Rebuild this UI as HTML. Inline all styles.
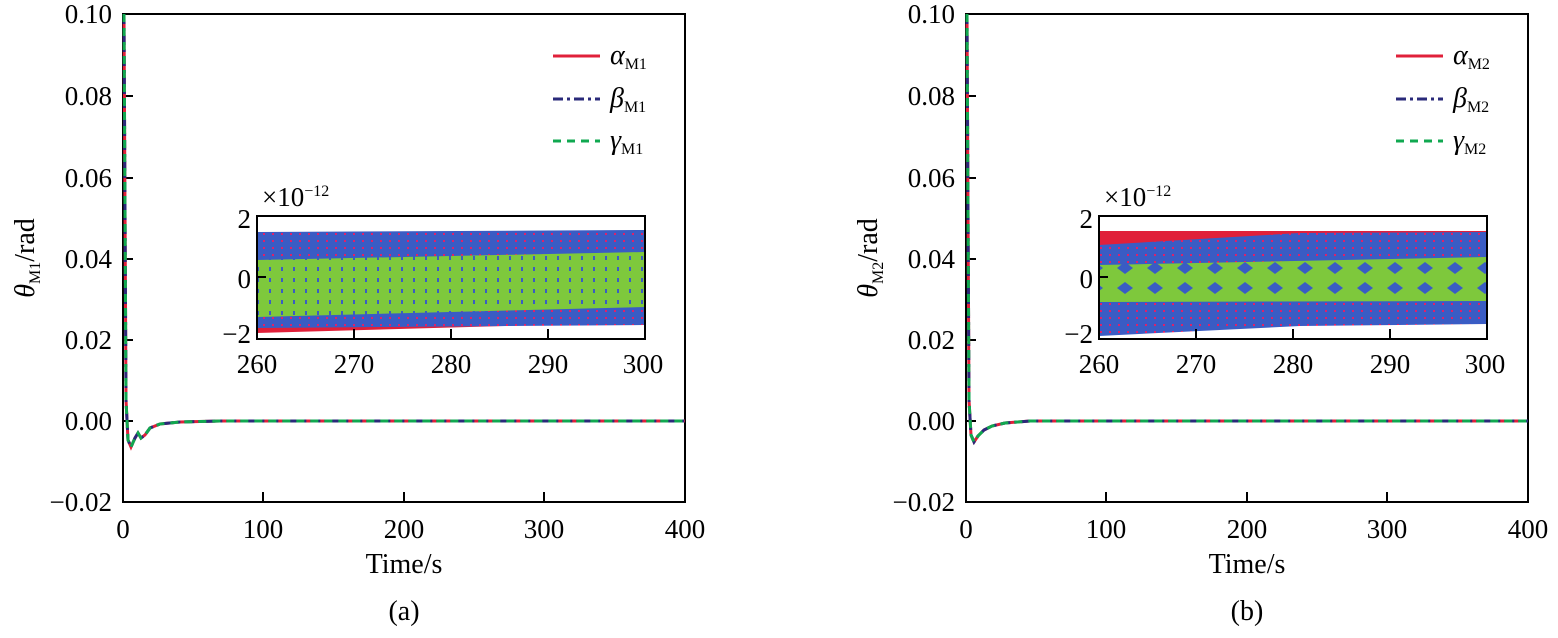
<!DOCTYPE html>
<html><head><style>
body{margin:0;background:#fff;}
svg{display:block;font-family:"Liberation Serif",serif;}
</style></head><body>
<svg width="1558" height="638" viewBox="0 0 1558 638" xmlns="http://www.w3.org/2000/svg">
<defs>
<pattern id="dots" width="9" height="7" patternUnits="userSpaceOnUse"><rect width="9" height="7" fill="#3a5cc4"/><rect x="2" y="2" width="2" height="2" fill="#e0206a"/></pattern>
<pattern id="gdots" width="12" height="11" patternUnits="userSpaceOnUse"><rect width="12" height="11" fill="#7ec83c"/><rect x="5" y="3" width="2" height="4" fill="#3a5cc4"/></pattern>
<pattern id="gdia" width="60" height="40" patternUnits="userSpaceOnUse"><rect width="60" height="40" fill="#7ec83c"/><polygon points="15,2 23,8 15,14 7,8" fill="#3a5cc4"/><polygon points="45,22 53,28 45,34 37,28" fill="#3a5cc4"/><polygon points="45,2 53,8 45,14 37,8" fill="#3a5cc4"/><polygon points="15,22 23,28 15,34 7,28" fill="#3a5cc4"/></pattern>
</defs>
<!-- Left panel -->
<rect x="123" y="14" width="562" height="488" fill="none" stroke="#000" stroke-width="2"/>
<g stroke="#000" stroke-width="2">
<line x1="123" y1="96" x2="133" y2="96"/><line x1="123" y1="178" x2="133" y2="178"/><line x1="123" y1="259" x2="133" y2="259"/><line x1="123" y1="340" x2="133" y2="340"/><line x1="123" y1="421" x2="133" y2="421"/>
<line x1="263" y1="502" x2="263" y2="492"/><line x1="404" y1="502" x2="404" y2="492"/><line x1="544" y1="502" x2="544" y2="492"/>
</g>
<g font-size="27" text-anchor="end">
<text x="112" y="23">0.10</text><text x="112" y="105">0.08</text><text x="112" y="187">0.06</text><text x="112" y="268">0.04</text><text x="112" y="349">0.02</text><text x="112" y="430">0.00</text><text x="112" y="511">−0.02</text>
</g>
<g font-size="27" text-anchor="middle">
<text x="123" y="538">0</text><text x="263" y="538">100</text><text x="404" y="538">200</text><text x="544" y="538">300</text><text x="685" y="538">400</text>
<text x="404" y="573" font-size="28">Time/s</text><text x="404" y="620" font-size="28">(a)</text>
</g>
<text transform="translate(34,258) rotate(-90)" font-size="28" text-anchor="middle"><tspan font-style="italic">θ</tspan><tspan font-size="16" dy="6">M1</tspan><tspan dy="-6">/rad</tspan></text>
<path d="M124,14 L126,400 L128,440 L131,447 L135,438 L138,433 L141,438 L145,435 L150,428 L160,424 L180,422 L220,421 L685,421" fill="none" stroke="#e0203a" stroke-width="3"/>
<path d="M124,14 L126,400 L128,440 L131,447 L135,438 L138,433 L141,438 L145,435 L150,428 L160,424 L180,422 L220,421 L685,421" fill="none" stroke="#2a2a7a" stroke-width="3" stroke-dasharray="10,4,3,4"/>
<path d="M124,14 L126,400 L128,440 L131,447 L135,438 L138,433 L141,438 L145,435 L150,428 L160,424 L180,422 L220,421 L685,421" fill="none" stroke="#10a850" stroke-width="3" stroke-dasharray="8,6"/>
<line x1="553" y1="56" x2="600" y2="56" stroke="#e0203a" stroke-width="3"/>
<line x1="553" y1="99" x2="600" y2="99" stroke="#2a2a7a" stroke-width="3" stroke-dasharray="10,4,3,4"/>
<line x1="553" y1="141" x2="600" y2="141" stroke="#10a850" stroke-width="3" stroke-dasharray="8,6"/>
<g font-size="28" font-style="italic"><text x="610" y="64">α<tspan font-style="normal" font-size="16" dy="5">M1</tspan></text><text x="610" y="107">β<tspan font-style="normal" font-size="16" dy="5">M1</tspan></text><text x="610" y="149">γ<tspan font-style="normal" font-size="16" dy="5">M1</tspan></text></g>
<rect x="257" y="216" width="388" height="123" fill="#fff"/>
<polygon points="257,333 645,322 645,318 257,318" fill="#e0203a"/>
<polygon points="257,232 645,230 645,325 257,328" fill="url(#dots)"/>
<polygon points="257,260 645,252 645,307 257,317" fill="url(#gdots)"/>
<rect x="257" y="216" width="388" height="123" fill="none" stroke="#000" stroke-width="2"/>
<g stroke="#000" stroke-width="2"><line x1="257" y1="277" x2="266" y2="277"/><line x1="354" y1="339" x2="354" y2="329"/><line x1="451" y1="339" x2="451" y2="329"/><line x1="548" y1="339" x2="548" y2="329"/></g>
<g font-size="27" text-anchor="end"><text x="251" y="228">2</text><text x="251" y="288">0</text><text x="251" y="343">−2</text></g>
<text x="262" y="206" font-size="27">×10<tspan font-size="16" dy="-10">−12</tspan></text>
<g font-size="27" text-anchor="middle"><text x="257" y="373">260</text><text x="354" y="373">270</text><text x="451" y="373">280</text><text x="548" y="373">290</text><text x="643" y="373">300</text></g>

<!-- Right panel -->
<rect x="966" y="14" width="562" height="488" fill="none" stroke="#000" stroke-width="2"/>
<g stroke="#000" stroke-width="2">
<line x1="966" y1="96" x2="976" y2="96"/><line x1="966" y1="178" x2="976" y2="178"/><line x1="966" y1="259" x2="976" y2="259"/><line x1="966" y1="340" x2="976" y2="340"/><line x1="966" y1="421" x2="976" y2="421"/>
<line x1="1106" y1="502" x2="1106" y2="492"/><line x1="1247" y1="502" x2="1247" y2="492"/><line x1="1387" y1="502" x2="1387" y2="492"/>
</g>
<g font-size="27" text-anchor="end">
<text x="955" y="23">0.10</text><text x="955" y="105">0.08</text><text x="955" y="187">0.06</text><text x="955" y="268">0.04</text><text x="955" y="349">0.02</text><text x="955" y="430">0.00</text><text x="955" y="511">−0.02</text>
</g>
<g font-size="27" text-anchor="middle">
<text x="966" y="538">0</text><text x="1106" y="538">100</text><text x="1247" y="538">200</text><text x="1387" y="538">300</text><text x="1528" y="538">400</text>
<text x="1247" y="573" font-size="28">Time/s</text><text x="1247" y="620" font-size="28">(b)</text>
</g>
<text transform="translate(877,258) rotate(-90)" font-size="28" text-anchor="middle"><tspan font-style="italic">θ</tspan><tspan font-size="16" dy="6">M2</tspan><tspan dy="-6">/rad</tspan></text>
<path d="M967,14 L969,400 L971,435 L974,442 L978,436 L984,430 L992,426 L1005,423 L1030,421 L1528,421" fill="none" stroke="#e0203a" stroke-width="3"/>
<path d="M967,14 L969,400 L971,435 L974,442 L978,436 L984,430 L992,426 L1005,423 L1030,421 L1528,421" fill="none" stroke="#2a2a7a" stroke-width="3" stroke-dasharray="10,4,3,4"/>
<path d="M967,14 L969,400 L971,435 L974,442 L978,436 L984,430 L992,426 L1005,423 L1030,421 L1528,421" fill="none" stroke="#10a850" stroke-width="3" stroke-dasharray="8,6"/>
<line x1="1396" y1="56" x2="1443" y2="56" stroke="#e0203a" stroke-width="3"/>
<line x1="1396" y1="99" x2="1443" y2="99" stroke="#2a2a7a" stroke-width="3" stroke-dasharray="10,4,3,4"/>
<line x1="1396" y1="141" x2="1443" y2="141" stroke="#10a850" stroke-width="3" stroke-dasharray="8,6"/>
<g font-size="28" font-style="italic"><text x="1453" y="64">α<tspan font-style="normal" font-size="16" dy="5">M2</tspan></text><text x="1453" y="107">β<tspan font-style="normal" font-size="16" dy="5">M2</tspan></text><text x="1453" y="149">γ<tspan font-style="normal" font-size="16" dy="5">M2</tspan></text></g>
<rect x="1099" y="216" width="388" height="123" fill="#fff"/>
<polygon points="1099,231 1487,231 1487,245 1099,245" fill="#e0203a"/>
<polygon points="1099,245 1300,233 1487,232 1487,323 1099,323" fill="url(#dots)"/>
<polygon points="1099,323 1487,323 1487,324 1300,326 1099,336" fill="url(#dots)"/>
<polygon points="1099,265 1487,257 1487,301 1099,302" fill="url(#gdia)"/>
<rect x="1099" y="216" width="388" height="123" fill="none" stroke="#000" stroke-width="2"/>
<g stroke="#000" stroke-width="2"><line x1="1099" y1="277" x2="1108" y2="277"/><line x1="1196" y1="339" x2="1196" y2="329"/><line x1="1293" y1="339" x2="1293" y2="329"/><line x1="1390" y1="339" x2="1390" y2="329"/></g>
<g font-size="27" text-anchor="end"><text x="1093" y="228">2</text><text x="1093" y="288">0</text><text x="1093" y="343">−2</text></g>
<text x="1104" y="206" font-size="27">×10<tspan font-size="16" dy="-10">−12</tspan></text>
<g font-size="27" text-anchor="middle"><text x="1099" y="373">260</text><text x="1196" y="373">270</text><text x="1293" y="373">280</text><text x="1390" y="373">290</text><text x="1485" y="373">300</text></g>
</svg>
</body></html>
